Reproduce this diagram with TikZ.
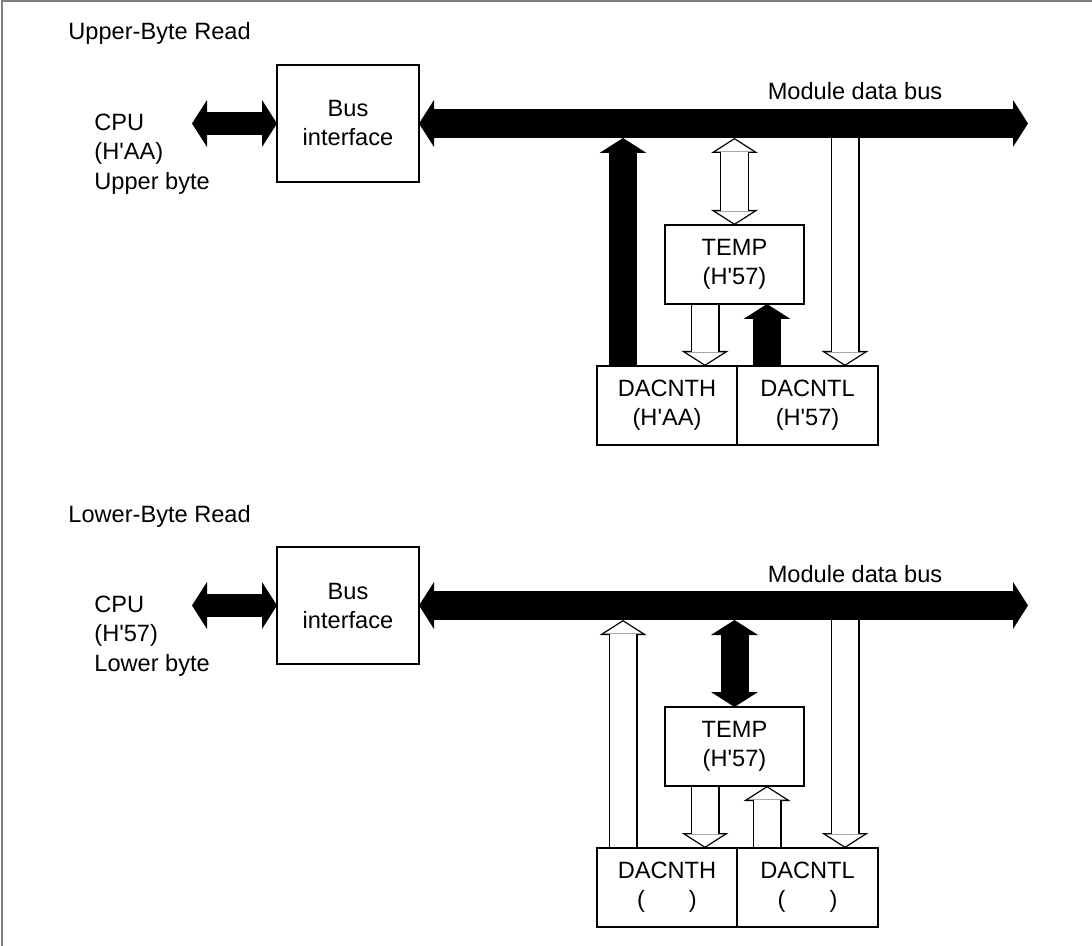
\documentclass[tikz,border=0pt]{standalone}
\usepackage{fontspec}
\setmainfont{Liberation Sans}
\usetikzlibrary{arrows.meta, positioning, backgrounds}
\usepackage{xcolor}
\definecolor{framegray}{HTML}{808080}
\newcommand{\hx}{H\textquotesingle}

\tikzset{
  fatB/.tip={Triangle[width=23.5pt, length=7.5pt, line width=0pt]},
  fatW/.tip={Triangle[width=19pt, length=6.1pt, line width=0pt]},
}

\begin{document}
\begin{tikzpicture}[
    x=0.5pt, y=-0.5pt,
    font=\fontsize{11.8pt}{14.5pt}\selectfont,
    box/.style={draw, line width=0.6pt, inner sep=0pt, outer sep=0pt,
                align=center, minimum width=70pt, minimum height=39.5pt},
    ifbox/.style={box, minimum width=71pt, minimum height=58.5pt},
    title/.style={anchor=base west, inner sep=0pt},
    cpulabel/.style={anchor=west, align=left, inner sep=0pt,
                     font=\fontsize{11.8pt}{14.75pt}\selectfont},
    buslabel/.style={anchor=base, inner sep=0pt},
    cpuarr/.style={line width=11.5pt, {fatB}-{fatB}},
    busarr/.style={line width=14.5pt, {fatB}-{fatB}},
    solid/.style={line width=14pt, -{fatB}},
    soliddbl/.style={line width=14pt, {fatB}-{fatB}},
    hollow/.style={line width=14.5pt, -{fatB},
      postaction={draw=white, line width=13.2pt, shorten >=0.77pt, -{fatW}}},
    hollowdbl/.style={line width=14.5pt, {fatB}-{fatB},
      postaction={draw=white, line width=13.2pt, shorten >=0.77pt,
                  shorten <=0.77pt, {fatW}-{fatW}}},
  ]
    \useasboundingbox (0,0) rectangle (1092,946);
    \draw[framegray, line width=1pt] (1092,1) -- (2,1) -- (2,946);

    % Upper-byte read
    \node[title] (ttlU) at (68,40) {Upper-Byte Read};
    \node[cpulabel] (cpuU) at (94,154) {CPU\\(\hx AA)\\Upper byte};
    \node[ifbox] (bifU) at (348,123.5) {Bus\\interface};
    \node[buslabel] (mdbU) at (855,100) {Module data bus};
    \node[box, minimum width=69.5pt] (tempU) at (734.5,264.5) {TEMP\\(\hx 57)};
    \node[box] (dhU) at (667,405.5) {DACNTH\\(\hx AA)};
    \node[box, right=0pt of dhU, minimum width=70.5pt] (dlU) {DACNTL\\(\hx 57)};
    \coordinate (cpuEndU) at (192,123.5);
    \coordinate (busEndU) at (1028,123.5);
    \coordinate (busBotU) at (0,138);
    \path ([xshift=-22pt]dhU.north) coordinate (tapAU)
          ([xshift=18.75pt]dlU.north) coordinate (tapCU)
          ([xshift=-14.75pt]tempU.south) coordinate (tapDU)
          ([xshift=16.25pt]tempU.south) coordinate (tapEU);

    \begin{scope}[on background layer]
      \draw[cpuarr] (cpuEndU) -- (bifU.west);
      \draw[busarr] (bifU.east) -- (busEndU);
      \draw[solid] (tapAU) -- (tapAU |- busBotU);
      \draw[hollowdbl] (tempU.north |- busBotU) -- (tempU.north);
      \draw[hollow] (tapCU |- busBotU) -- (tapCU);
      \draw[hollow] (tapDU) -- (tapDU |- dhU.north);
      \draw[solid] (tapEU |- dlU.north) -- (tapEU);
    \end{scope}

    % Lower-byte read
    \begin{scope}[yshift=-241pt]
      \node[title] (ttlL) at (68,40) {Lower-Byte Read};
      \node[cpulabel] (cpuL) at (94,154) {CPU\\(\hx 57)\\Lower byte};
      \node[ifbox] (bifL) at (348,123.5) {Bus\\interface};
      \node[buslabel] (mdbL) at (855,100) {Module data bus};
      \node[box, minimum width=69.5pt] (tempL) at (734.5,264.5) {TEMP\\(\hx 57)};
      \node[box] (dhL) at (667,405.5) {DACNTH\\(\hspace{22pt})};
      \node[box, right=0pt of dhL, minimum width=70.5pt] (dlL) {DACNTL\\(\hspace{22pt})};
      \coordinate (cpuEndL) at (192,123.5);
      \coordinate (busEndL) at (1028,123.5);
      \coordinate (busBotL) at (0,138);
      \path ([xshift=-22pt]dhL.north) coordinate (tapAL)
            ([xshift=18.75pt]dlL.north) coordinate (tapCL)
            ([xshift=-14.75pt]tempL.south) coordinate (tapDL)
            ([xshift=16.25pt]tempL.south) coordinate (tapEL);

      \begin{scope}[on background layer]
        \draw[cpuarr] (cpuEndL) -- (bifL.west);
        \draw[busarr] (bifL.east) -- (busEndL);
        \draw[hollow] (tapAL) -- (tapAL |- busBotL);
        \draw[soliddbl] (tempL.north |- busBotL) -- (tempL.north);
        \draw[hollow] (tapCL |- busBotL) -- (tapCL);
        \draw[hollow] (tapDL) -- (tapDL |- dhL.north);
        \draw[hollow] (tapEL |- dlL.north) -- (tapEL);
      \end{scope}
    \end{scope}
  \end{tikzpicture}
\end{document}
